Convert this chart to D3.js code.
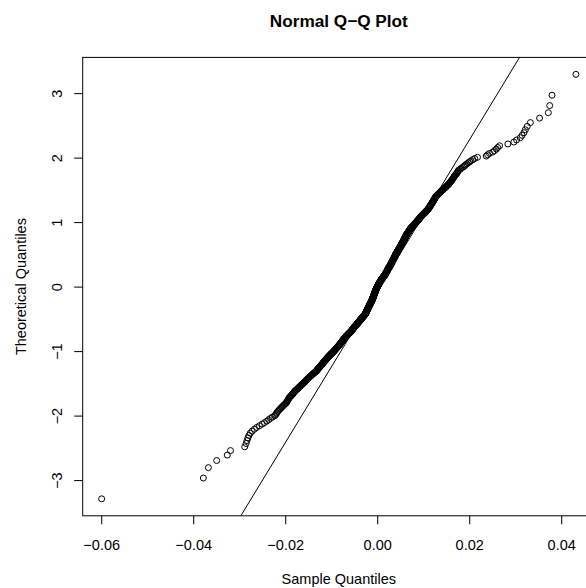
<!DOCTYPE html>
<html>
<head>
<meta charset="utf-8">
<title>Normal Q-Q Plot</title>
<script src="https://cdn.jsdelivr.net/npm/d3@7"></script>
<style>
    html, body { margin: 0; padding: 0; background: #ffffff; }
    svg { display: block; font-family: "Liberation Sans", Arial, Helvetica, sans-serif; }
</style>
</head>
<body>
<div id="chart"></div>
<script>
// Sorted sample quantiles (returns in basis points, 1 bp = 0.0001)
const sampleBp = [
    -599, -378, -367, -349, -326, -319,
    -288, -285, -283, -281, -279, -276, -272, -267, -262, -256, -250, -245, -240, -236, -232, -228, -223,
    -221, -219, -218, -216, -214, -212,
    -210, -208, -206, -204, -202, -200, -198,
    -197, -196, -195, -194, -193, -192, -191, -190, -188,
    -187, -186, -184, -183, -182, -181, -180, -179, -178, -176,
    -175, -173, -172, -171, -170, -168, -167, -166, -165, -164, -162, -161,
    -160, -159, -158, -157, -156, -155, -154, -153, -152, -151, -150, -149, -148, -147,
    -146, -145, -144, -143, -142, -141, -140, -139, -138, -137, -136, -135, -134, -133, -132, -131,
    -131, -130, -130, -129, -128, -128, -127, -126, -126, -125, -124, -124, -123, -122, -122, -121, -120, -120,
    -119, -119, -118, -118, -117, -116, -116, -115, -115, -114, -113, -113, -112, -112, -111, -110, -110, -109, -109, -108, -108,
    -107, -107, -106, -105, -105, -104, -104, -103, -102, -102, -101, -101, -100, -99, -99, -98, -98, -97, -96, -96, -95, -95, -94,
    -94, -93, -93, -92, -92, -91, -91, -90, -90, -89, -89, -88, -88, -87, -87, -86, -86, -85, -85, -84, -84, -83, -83, -82, -82,
    -82, -81, -81, -81, -80, -80, -79, -79, -79, -78, -78, -77, -77, -77, -76, -76, -75, -75, -75, -74, -74, -73, -73, -73, -72, -72, -71, -71,
    -71, -70, -70, -69, -69, -69, -68, -68, -67, -67, -67, -66, -66, -65, -65, -64, -64, -63, -63, -63, -62, -62, -61, -61, -60, -60, -59, -59, -58, -58,
    -57, -57, -57, -56, -56, -56, -55, -55, -55, -54, -54, -54, -53, -53, -53, -52, -52, -52, -51, -51, -51, -50, -50, -50, -49, -49, -49, -48, -48, -47, -47, -46,
    -46, -46, -45, -45, -45, -44, -44, -44, -43, -43, -43, -42, -42, -42, -41, -41, -41, -40, -40, -40, -39, -39, -39, -38, -38, -38, -37, -37, -37, -36, -36, -36, -35, -35, -35,
    -34, -34, -34, -33, -33, -33, -32, -32, -32, -31, -31, -31, -30, -30, -30, -29, -29, -29, -28, -28, -28, -27, -27, -27, -26, -26, -26, -26, -25, -25, -25, -25, -24, -24, -24, -24,
    -24, -24, -24, -24, -24, -23, -23, -23, -23, -23, -22, -22, -22, -22, -22, -22, -21, -21, -21, -21, -21, -20, -20, -20, -20, -20, -20, -19, -19, -19, -19, -19, -18, -18, -18, -18, -18, -18,
    -17, -17, -17, -17, -17, -17, -16, -16, -16, -16, -16, -15, -15, -15, -15, -15, -15, -14, -14, -14, -14, -14, -13, -13, -13, -13, -13, -12, -12, -12, -12, -12, -12, -11, -11, -11, -11, -11,
    -10, -10, -10, -10, -10, -10, -10, -10, -9, -9, -9, -9, -9, -9, -9, -9, -8, -8, -8, -8, -8, -8, -8, -8, -7, -7, -7, -7, -7, -7, -7, -7, -6, -6, -6, -6, -6, -6, -6, -6,
    -5, -5, -5, -5, -5, -5, -5, -4, -4, -4, -4, -4, -4, -4, -3, -3, -3, -3, -3, -3, -3, -2, -2, -2, -2, -2, -2, -2, -1, -1, -1, -1, -1, -1, 0, 0, 0, 0, 0, 0,
    1, 1, 1, 1, 1, 2, 2, 2, 2, 2, 3, 3, 3, 3, 3, 4, 4, 4, 4, 4, 5, 5, 5, 5, 5, 6, 6, 6, 6, 6, 7, 7, 7, 7, 7, 8, 8, 8, 8,
    9, 9, 9, 9, 10, 10, 10, 10, 11, 11, 11, 11, 12, 12, 12, 12, 13, 13, 13, 13, 14, 14, 14, 14, 15, 15, 15, 15, 16, 16, 16, 16, 17, 17, 17, 17, 18, 18, 18, 18,
    19, 19, 19, 19, 19, 19, 20, 20, 20, 20, 20, 21, 21, 21, 21, 21, 22, 22, 22, 22, 22, 22, 23, 23, 23, 23, 23, 24, 24, 24, 24, 24, 25, 25, 25, 25, 25, 25,
    27, 27, 27, 27, 27, 27, 28, 28, 28, 28, 28, 29, 29, 29, 29, 29, 30, 30, 30, 30, 30, 30, 31, 31, 31, 31, 31, 32, 32, 32, 32, 32, 33, 33, 33, 33, 33, 33,
    34, 34, 34, 34, 34, 35, 35, 35, 35, 35, 36, 36, 36, 36, 36, 37, 37, 37, 37, 37, 38, 38, 38, 38, 38, 39, 39, 39, 39, 39, 40, 40, 40, 40, 40, 40,
    41, 41, 41, 41, 42, 42, 42, 42, 43, 43, 43, 43, 44, 44, 44, 44, 44, 45, 45, 45, 45, 46, 46, 46, 46, 47, 47, 47, 47, 48, 48, 48, 48, 48,
    49, 49, 49, 49, 50, 50, 50, 50, 51, 51, 51, 51, 52, 52, 52, 52, 53, 53, 53, 53, 54, 54, 54, 54, 55, 55, 55, 55, 56, 56, 56, 56,
    57, 57, 57, 57, 57, 58, 58, 58, 58, 59, 59, 59, 59, 60, 60, 60, 60, 60, 61, 61, 61, 61, 62, 62, 62, 62, 63, 63, 63, 63, 63,
    64, 64, 64, 65, 65, 65, 66, 66, 66, 67, 67, 67, 68, 68, 68, 69, 69, 69, 70, 70, 70, 71, 71, 71, 72, 72, 72,
    73, 73, 74, 74, 75, 75, 76, 76, 77, 77, 78, 78, 79, 79, 80, 80, 81, 81, 82, 82, 83, 83, 84, 84, 85, 85,
    86, 86, 87, 87, 88, 88, 89, 89, 90, 90, 91, 91, 92, 92, 93, 93, 94, 94, 95, 95, 96, 96, 97,
    98, 98, 99, 100, 100, 101, 102, 102, 103, 104, 104, 105, 106, 106, 107, 108, 108, 109, 110, 110,
    111, 111, 112, 112, 113, 113, 114, 114, 115, 115, 116, 116, 117, 117, 118, 118, 119, 119, 120,
    120, 121, 121, 122, 122, 123, 123, 124, 124, 125, 125, 126, 126, 127, 127, 128,
    129, 130, 131, 132, 133, 134, 135, 136, 137, 138, 139, 140, 141, 143,
    144, 145, 146, 148, 149, 150, 151, 152, 154, 155, 156, 157,
    158, 159, 160, 161, 162, 163, 164, 165, 166, 167,
    168, 169, 170, 172, 173, 174, 175, 176, 177,
    180, 182, 185, 188, 190, 192, 195,
    198, 201, 204, 208, 212, 218,
    237, 240, 244, 251, 255, 259, 262, 266, 284, 297, 303, 311, 315, 319, 322, 326, 333, 353, 372, 375, 380, 432
];

// Reference line (qqline): sample value at the 25% and 75% theoretical quantile
const lineProbs  = [0.25, 0.75];
const lineSample = [-0.0051, 0.0064];

const xTicks      = [-0.06, -0.04, -0.02, 0, 0.02, 0.04];
const xTickLabels = ["\u22120.06", "\u22120.04", "\u22120.02", "0.00", "0.02", "0.04"];
const yTicks      = [-3, -2, -1, 0, 1, 2, 3];
const yTickLabels = ["\u22123", "\u22122", "\u22121", "0", "1", "2", "3"];

const TITLE   = "Normal Q\u2212Q Plot";
const X_LABEL = "Sample Quantiles";
const Y_LABEL = "Theoretical Quantiles";

const WIDTH  = 586;
const HEIGHT = 588;
const MARGIN = { top: 57.4, right: -8.9, bottom: 72.2, left: 82.7 };   // plot box runs past the right edge
const TICK   = 8.5;

/**
 * Inverse of the standard normal CDF (Acklam's rational approximation).
 *
 * @param {Number} p Probability
 *
 * @returns {Number}
 */
function qnorm(p)
{
    const a = [-39.69683028665376, 220.9460984245205, -275.9285104469687, 138.3577518672690, -30.66479806614716, 2.506628277459239];
    const b = [-54.47609879822406, 161.5858368580409, -155.6989798598866, 66.80131188771972, -13.28068155288572];
    const c = [-0.007784894002430293, -0.3223964580411365, -2.400758277161838, -2.549732539343734, 4.374664141464968, 2.938163982698783];
    const d = [0.007784695709041462, 0.3224671290700398, 2.445134137142996, 3.754408661907416];

    const tail = (q) => (((((c[0] * q + c[1]) * q + c[2]) * q + c[3]) * q + c[4]) * q + c[5])
        / ((((d[0] * q + d[1]) * q + d[2]) * q + d[3]) * q + 1);

    if (p < 0.02425) {
        return tail(Math.sqrt(-2 * Math.log(p)));
    }

    if (p > 1 - 0.02425) {
        return -tail(Math.sqrt(-2 * Math.log(1 - p)));
    }

    let q = p - 0.5;
    let r = q * q;

    return (((((a[0] * r + a[1]) * r + a[2]) * r + a[3]) * r + a[4]) * r + a[5]) * q
        / (((((b[0] * r + b[1]) * r + b[2]) * r + b[3]) * r + b[4]) * r + 1);
}

/**
 * Extends a [min, max] range by 4% on both sides (like R's "r" axis style).
 */
function padExtent(extent)
{
    let pad = (extent[1] - extent[0]) * 0.04;

    return [extent[0] - pad, extent[1] + pad];
}

/**
 * Normal Q-Q plot with the sample on the x axis (datax = TRUE).
 */
class QqPlot
{
    constructor(parent)
    {
        this._parent = parent;

        let sample = sampleBp.map((v) => v / 10000).sort(d3.ascending);
        let n      = sample.length;

        // ppoints(n) for n > 10
        this._points = sample.map((v, i) => ({ sample: v, theoretical: qnorm((i + 0.5) / n) }));
    }

    draw()
    {
        this._parent.html("");

        this._svg = this._parent
            .append("svg")
            .attr("width", WIDTH)
            .attr("height", HEIGHT);

        let left   = MARGIN.left;
        let right  = WIDTH - MARGIN.right;
        let top    = MARGIN.top;
        let bottom = HEIGHT - MARGIN.bottom;

        this._x = d3.scaleLinear()
            .domain(padExtent(d3.extent(this._points, (d) => d.sample)))
            .range([left, right]);

        this._y = d3.scaleLinear()
            .domain(padExtent(d3.extent(this._points, (d) => d.theoretical)))
            .range([bottom, top]);

        this._svg.append("clipPath")
            .attr("id", "plot-clip")
            .append("rect")
            .attr("x", left)
            .attr("y", top)
            .attr("width", right - left)
            .attr("height", bottom - top);

        this.drawPoints();
        this.drawLine();
        this.drawAxes(left, bottom);

        // Box around the plot region
        this._svg.append("rect")
            .attr("x", left)
            .attr("y", top)
            .attr("width", right - left)
            .attr("height", bottom - top)
            .attr("fill", "none")
            .attr("stroke", "#000")
            .attr("stroke-width", 1);

        this.drawLabels(left, right, top, bottom);
    }

    drawPoints()
    {
        this._svg.append("g")
            .attr("clip-path", "url(#plot-clip)")
            .selectAll("circle")
            .data(this._points)
            .enter()
            .append("circle")
            .attr("cx", (d) => this._x(d.sample))
            .attr("cy", (d) => this._y(d.theoretical))
            .attr("r", 3)
            .attr("fill", "none")
            .attr("stroke", "#000")
            .attr("stroke-width", 1);
    }

    drawLine()
    {
        let t0    = qnorm(lineProbs[0]);
        let t1    = qnorm(lineProbs[1]);
        let slope = (t1 - t0) / (lineSample[1] - lineSample[0]);
        let yDom  = this._y.domain();
        let xAt   = (t) => lineSample[0] + (t - t0) / slope;

        this._svg.append("line")
            .attr("clip-path", "url(#plot-clip)")
            .attr("x1", this._x(xAt(yDom[0])))
            .attr("y1", this._y(yDom[0]))
            .attr("x2", this._x(xAt(yDom[1])))
            .attr("y2", this._y(yDom[1]))
            .attr("stroke", "#000")
            .attr("stroke-width", 1);
    }

    drawAxes(left, bottom)
    {
        let xAxis = d3.axisBottom(this._x)
            .tickValues(xTicks)
            .tickFormat((d, i) => xTickLabels[i])
            .tickSize(TICK)
            .tickSizeOuter(0);

        let yAxis = d3.axisLeft(this._y)
            .tickValues(yTicks)
            .tickFormat((d, i) => yTickLabels[i])
            .tickSize(TICK)
            .tickSizeOuter(0);

        let gx = this._svg.append("g")
            .attr("transform", "translate(0," + bottom + ")")
            .call(xAxis);

        let gy = this._svg.append("g")
            .attr("transform", "translate(" + left + ",0)")
            .call(yAxis);

        // R draws no axis line past the outer ticks, the box covers the rest
        gx.select(".domain").remove();
        gy.select(".domain").remove();

        [gx, gy].forEach((g) => {
            g.attr("font-family", null).attr("font-size", null);
            g.selectAll(".tick line").attr("stroke", "#000").attr("stroke-width", 1);
            g.selectAll(".tick text")
                .attr("fill", "#000")
                .style("font-size", "14.5px");
        });

        gx.selectAll(".tick text")
            .attr("y", 34)
            .attr("dy", null);

        gy.selectAll(".tick text")
            .attr("x", null)
            .attr("dy", null)
            .attr("text-anchor", "middle")
            .attr("transform", "translate(-21,0) rotate(-90)");
    }

    drawLabels(left, right, top, bottom)
    {
        let cx = (left + right) / 2;
        let cy = (top + bottom) / 2;

        this._svg.append("text")
            .attr("x", cx)
            .attr("y", 27)
            .attr("text-anchor", "middle")
            .style("font-size", "17.2px")
            .style("font-weight", "bold")
            .text(TITLE);

        this._svg.append("text")
            .attr("x", cx)
            .attr("y", 584)
            .attr("text-anchor", "middle")
            .style("font-size", "14.5px")
            .text(X_LABEL);

        this._svg.append("text")
            .attr("transform", "translate(26," + cy + ") rotate(-90)")
            .attr("text-anchor", "middle")
            .style("font-size", "14.5px")
            .text(Y_LABEL);
    }
}

new QqPlot(d3.select("#chart")).draw();
</script>
</body>
</html>
